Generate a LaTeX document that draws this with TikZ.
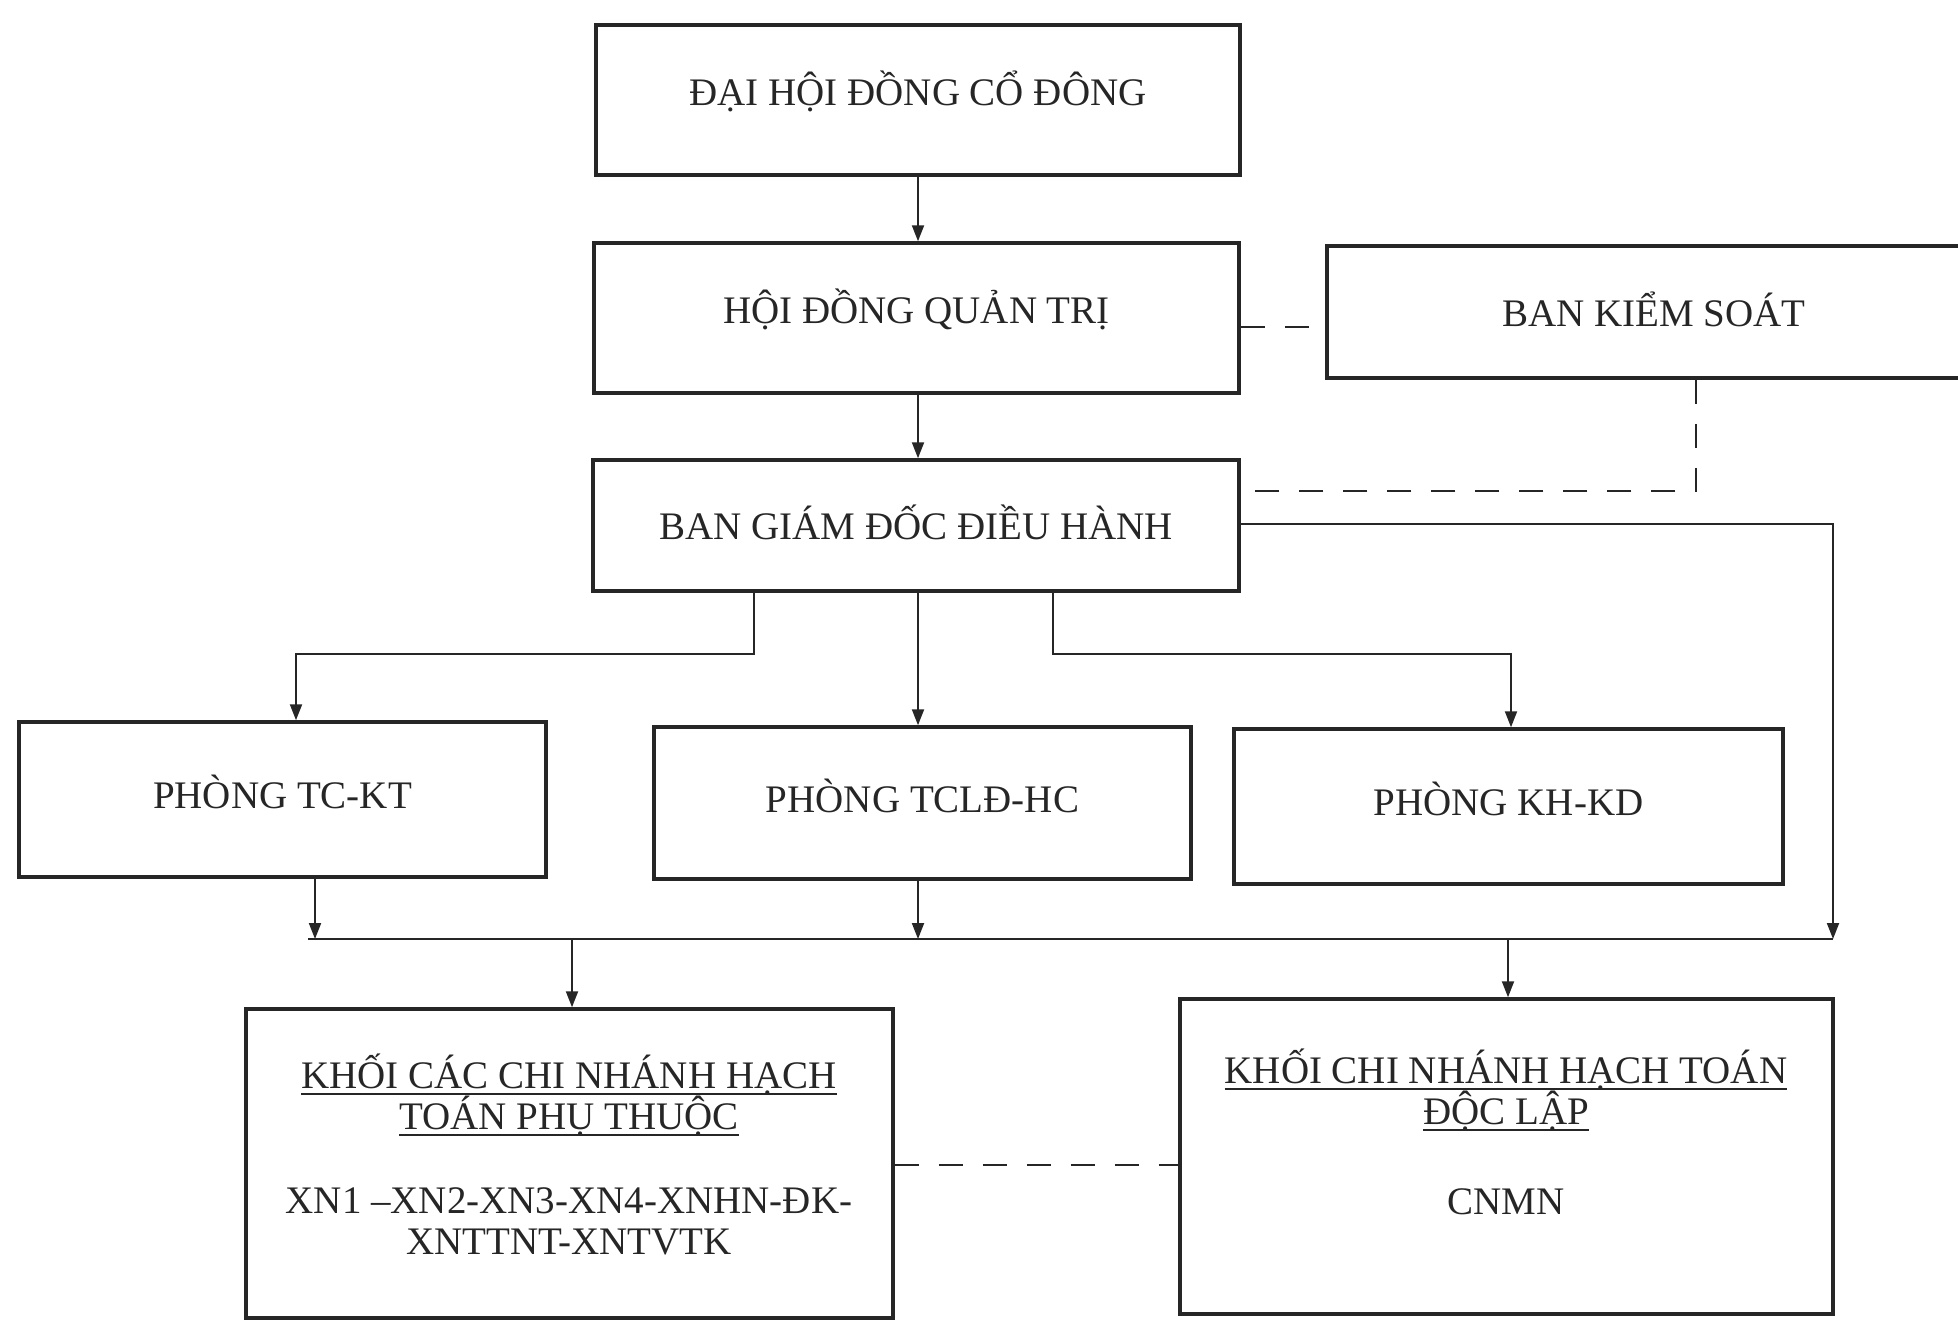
\documentclass[tikz,border=0pt]{standalone}
\usepackage{fontspec}
\setmainfont{Liberation Serif}
\usetikzlibrary{arrows.meta}
\newcommand\myul[1]{\setbox0=\hbox{#1}\leavevmode\rlap{\rule[-7pt]{\wd0}{2pt}}\box0}
\begin{document}
\begin{tikzpicture}[x=1pt,y=-1pt,
 box/.style={draw=black!85, line width=3.5pt, inner sep=0pt, font=\fontsize{39}{41}\selectfont, text=black!85, text height=31pt, text depth=21pt},
 txt/.style={inner sep=0pt, font=\fontsize{39}{41}\selectfont, align=center, text=black!85},
 conn/.style={draw=black!85, line width=2pt},
 arr/.style={conn, -{Triangle[length=16pt,width=12pt]}},
 dsh/.style={conn, line width=2.5pt, dash pattern=on 24pt off 20pt}]
\useasboundingbox (0,0) rectangle (1958,1320);
\clip (0,0) rectangle (1958,1320);
\fill[white] (0,0) rectangle (1958,1320);

% boxes
\node[box, minimum width=644pt, minimum height=150pt] (dhdcd) at (918,100) {ĐẠI HỘI ĐỒNG CỔ ĐÔNG};
\node[box, minimum width=645pt, minimum height=150pt] (hdqt) at (916.5,318) {HỘI ĐỒNG QUẢN TRỊ};
\node[box, text depth=3pt, minimum width=654pt, minimum height=132pt] (bks) at (1654,312) {BAN KIỂM SOÁT};
\node[box, text depth=3pt, minimum width=646pt, minimum height=131pt] (bgd) at (916,525.5) {BAN GIÁM ĐỐC ĐIỀU HÀNH};
\node[box, text depth=13pt, minimum width=527pt, minimum height=155pt] (tckt) at (282.5,799.5) {PHÒNG TC-KT};
\node[box, text depth=13pt, minimum width=537pt, minimum height=152pt] (tcld) at (922.5,803) {PHÒNG TCLĐ-HC};
\node[box, text depth=13pt, minimum width=549pt, minimum height=155pt] (khkd) at (1508.5,806.5) {PHÒNG KH-KD};
\node[box, minimum width=647pt, minimum height=309pt] (kpt) at (569.5,1163.5) {};
\node[box, minimum width=653pt, minimum height=315pt] (kdl) at (1506.5,1156.5) {};

% texts inside bottom boxes
\node[txt] (kpth) at (569,1095) {\myul{KHỐI CÁC CHI NHÁNH HẠCH}\\\myul{TOÁN PHỤ THUỘC}};
\node[txt] (kptx) at (569,1221) {XN1 –XN2-XN3-XN4-XNHN-ĐK-\\XNTTNT-XNTVTK};
\node[txt] (kdlh) at (1506,1090) {\myul{KHỐI CHI NHÁNH HẠCH TOÁN}\\\myul{ĐỘC LẬP}};
\node[txt] (kdlx) at (1506,1202) {CNMN};

% helper coordinates
\coordinate (yq) at (0,327);
\coordinate (c1) at (1696,491);
\coordinate (c2) at (1833,524);
\coordinate (t1) at (754,654);
\coordinate (t1b) at (296,654);
\coordinate (m) at (918,0);
\coordinate (t3) at (1053,654);
\coordinate (t3b) at (1511,654);
\coordinate (busL) at (308,939);
\coordinate (busR) at (1833,939);
\coordinate (b1) at (315,939);
\coordinate (b2) at (918,939);
\coordinate (b3) at (572,939);
\coordinate (b4) at (1508,939);
\coordinate (d2) at (0,1165);

% connectors
\draw[arr] (dhdcd.south -| m) -- (hdqt.north -| m);
\draw[arr] (hdqt.south -| m) -- (bgd.north -| m);
\draw[dsh] (hdqt.east |- yq) -- (bks.west |- yq);
\draw[dsh] (bks.south -| c1) -- (c1) -- (bgd.east |- c1);
\draw[arr] (bgd.east |- c2) -- (c2) -- (busR);
\draw[arr] (bgd.south -| t1) -- (t1) -- (t1b) -- (tckt.north -| t1b);
\draw[arr] (bgd.south -| m) -- (tcld.north -| m);
\draw[arr] (bgd.south -| t3) -- (t3) -- (t3b) -- (khkd.north -| t3b);
\draw[arr] (tckt.south -| b1) -- (b1);
\draw[arr] (tcld.south -| b2) -- (b2);
\draw[conn] (busL) -- (busR);
\draw[arr] (b3) -- (kpt.north -| b3);
\draw[arr] (b4) -- (kdl.north -| b4);
\draw[dsh] (kpt.east |- d2) -- (kdl.west |- d2);
\end{tikzpicture}
\end{document}
